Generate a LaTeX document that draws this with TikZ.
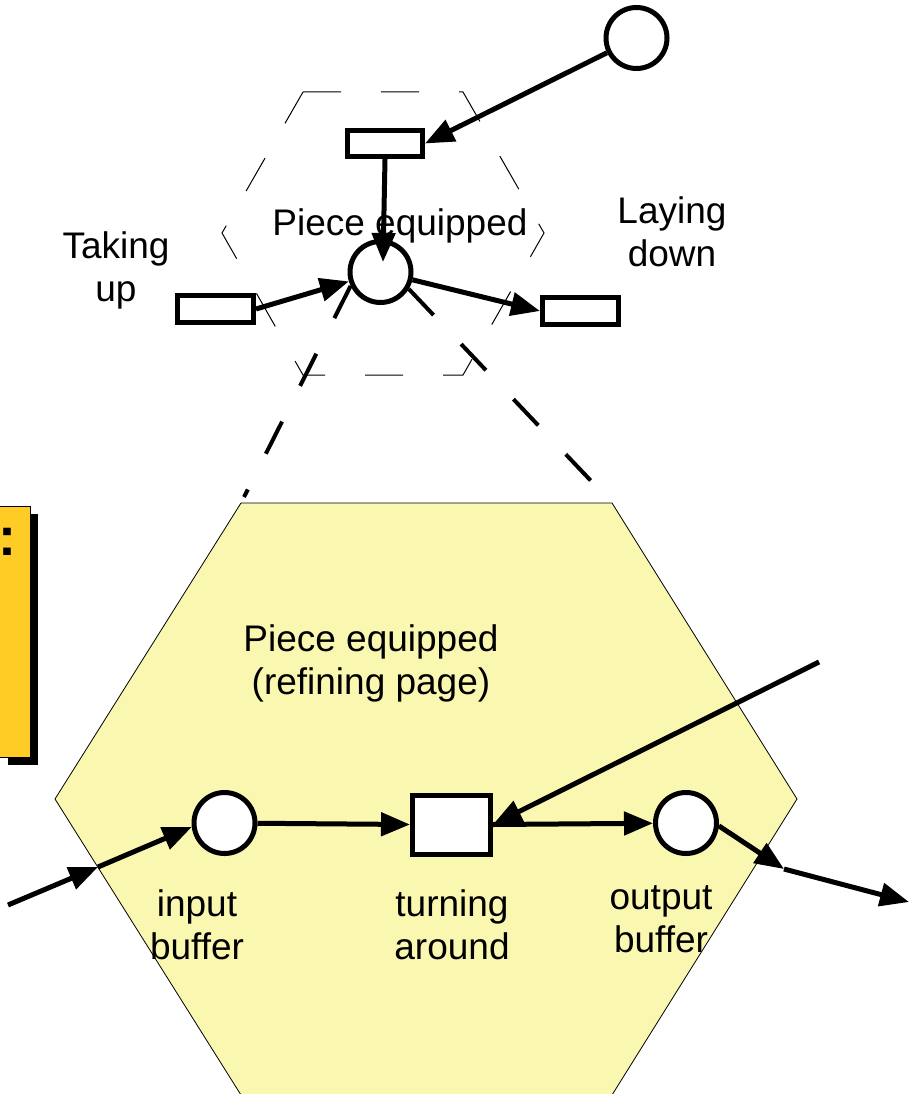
\documentclass[tikz,border=0pt]{standalone}
\usepackage{fontspec}
\setmainfont{Liberation Sans}
\usetikzlibrary{arrows.meta}
\definecolor{hexfill}{RGB}{250,247,176}
\definecolor{notefill}{RGB}{255,204,38}

\begin{document}
\begin{tikzpicture}[x=1pt,y=-1pt,
  conn/.style={line width=5pt, -{Triangle[length=29pt,width=23pt]}},
  place/.style={circle, draw, line width=5pt, fill=white, minimum size=61pt, inner sep=0pt},
  trans/.style={rectangle, draw, line width=5pt, fill=white, inner sep=0pt},
  lbl/.style={font=\fontsize{37}{43}\selectfont, align=center, inner sep=0pt, anchor=base},
  zoomline/.style={line width=4pt, dash pattern=on 36pt off 40pt},
  outline/.style={line width=1pt, dash pattern=on 38pt off 40pt, draw=black}
]
\useasboundingbox (0,0) rectangle (912,1094);
\clip (0,0) rectangle (912,1094);

% refining page (lower hexagon)
\coordinate (hTL) at (241,503);
\coordinate (hTR) at (612,503);
\draw[fill=hexfill, line width=0.8pt] (hTL) -- (hTR) -- (797,799) -- (612,1095)
  -- (241,1095) -- (55,799) -- cycle;

% note card with shadow
\fill (8,514) rectangle (38,765);
\draw[fill=notefill, line width=0.8pt] (-5,506) rectangle (30,757);
\node[font=\bfseries\fontsize{54}{60}\selectfont, inner sep=0pt, anchor=base] (notetxt) at (7,555) {:};

% substituted place outline (upper hexagon)
\draw[outline] (303,92) -- (463,92) -- (544,233) -- (463,375) -- (303,375) -- (222,233) -- cycle;

% upper net
\node[place] (src) at (636.5,38) {};
\node[trans, minimum width=75pt, minimum height=26pt] (tin) at (385,143.5) {};
\node[place] (pc) at (380.5,272) {};
\node[trans, minimum width=76pt, minimum height=27pt] (tl) at (215.5,309) {};
\node[trans, minimum width=76pt, minimum height=27pt] (tr) at (580.5,311) {};

\coordinate (pcin) at (383,262);
\draw[conn] (src) -- (tin.east);
\draw[conn] (tin.south) -- (pcin);
\draw[conn] (tl.east) -- (pc);
\draw[conn] (pc) -- (tr.west);

% zoom lines down to the refining page
\coordinate (lend) at (244,497);
\draw[zoomline] (pc.205) -- (lend);
\draw[zoomline] (pc.-31) -- (hTR);

% lower net
\node[place] (ib) at (224.5,823) {};
\node[trans, minimum width=78pt, minimum height=59pt] (ta) at (451.5,824.5) {};
\node[place] (ob) at (686,823) {};

\coordinate (inS) at (8,905);
\coordinate (inM) at (98,867);
\coordinate (fb) at (819,662);
\coordinate (oM) at (784,869);
\coordinate (oE) at (909,902);

\draw[conn] (inS) -- (inM);
\draw[conn] (inM) -- (ib.187);
\draw[conn] (ib) -- (ta.west);
\draw[conn] (ta.east) -- (ob);
\draw[conn] (fb) -- (ta.east);
\draw[conn] (ob.-5) -- (oM);
\draw[conn] (oM) -- (oE);

% labels (base anchor sits on the last line)
\node[lbl] (ltake) at (116,301) {Taking\\up};
\node[lbl] (llay) at (672,266) {Laying\\down};
\node[lbl] (lpc) at (400,235) {Piece equipped};
\node[lbl] (lpage) at (371,694) {Piece equipped\\(refining page)};
\node[lbl] (lib) at (197,959) {input\\buffer};
\node[lbl] (lta) at (452,959) {turning\\around};
\node[lbl] (lob) at (661,952) {output\\buffer};
\end{tikzpicture}
\end{document}
